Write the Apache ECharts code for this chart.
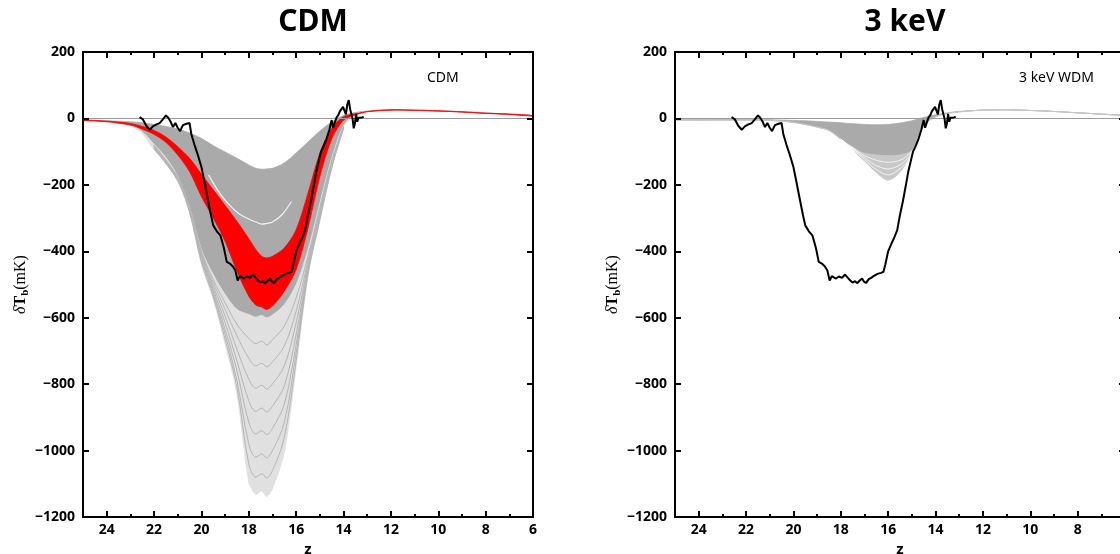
<!DOCTYPE html>
<html><head><meta charset="utf-8">
<script src="https://cdn.jsdelivr.net/npm/echarts@6/dist/echarts.min.js"></script>
<style>html,body{margin:0;padding:0;background:#fff}#c{width:1120px;height:554px}</style>
</head><body><div id="c"></div>
<script>
// ---- shared redshift grid for the envelope curves ----
const zGrid = [25, 24, 23, 22.5, 22, 21.5, 21, 20.5, 20, 19.5, 19, 18.5, 18, 17.7, 17.45, 17.25, 17, 16.5, 16, 15.5, 15, 14.5, 14, 13.5, 13, 12, 11, 10, 9, 8, 7, 6];

// CDM panel: gray family envelopes (mK)
const cdmShallow     = [-5, -7, -10, -13, -18, -24, -32, -44, -60, -82, -101, -120, -140, -150, -153, -152, -150, -134, -104, -71, -38, -11, 9, 18, 22, 26, 25, 23, 20, 17, 13, 9];
const cdmDenseBottom = [-5, -8, -18, -40, -78, -118, -175, -268, -395, -470, -530, -575, -590, -598, -593, -600, -592, -560, -500, -395, -255, -120, -22, 13, 21, 26, 25, 23, 20, 16, 13, 8];
const cdmDeepest     = [-5, -9, -22, -45, -95, -132, -190, -285, -440, -545, -680, -830, -1095, -1132, -1122, -1138, -1115, -1005, -750, -475, -310, -150, -25, 12, 22, 27, 26, 24, 21, 17, 13, 9];
// CDM panel: red (selected) band
const cdmRedTop      = [-5, -8, -15, -24, -36, -56, -85, -120, -168, -215, -262, -310, -362, -395, -415, -420, -415, -390, -335, -225, -105, -30, 5, 14, 21, 26, 25, 23, 20, 16, 13, 9];
const cdmRedBottom   = [-6, -10, -20, -32, -48, -72, -110, -160, -235, -300, -370, -460, -535, -562, -568, -575, -565, -520, -455, -330, -175, -62, -5, 10, 20, 25, 24, 22, 19, 15, 12, 7];

// CDM panel: individual deep curves (sparse lower part)
const zDeep = [22, 21, 20.5, 20, 19.5, 19, 18.5, 18, 17.7, 17.45, 17.25, 17, 16.5, 16, 15.5, 15, 14.5, 14];
const cdmDeep1 = [-80, -177, -270, -400, -485, -555, -620, -662, -678, -670, -682, -666, -625, -540, -415, -268, -128, -24];
const cdmDeep2 = [-82, -179, -272, -405, -495, -575, -655, -722, -745, -737, -748, -733, -685, -580, -428, -277, -133, -25];
const cdmDeep3 = [-84, -181, -274, -410, -505, -595, -695, -785, -812, -803, -815, -799, -745, -615, -440, -284, -138, -26];
const cdmDeep4 = [-86, -183, -276, -415, -515, -615, -730, -850, -882, -872, -884, -866, -805, -650, -450, -290, -142, -27];
const cdmDeep5 = [-88, -185, -278, -420, -522, -635, -760, -915, -950, -940, -952, -933, -860, -680, -457, -296, -145, -28];
const cdmDeep6 = [-90, -186, -280, -427, -530, -650, -790, -980, -1020, -1010, -1022, -1000, -915, -705, -463, -301, -147, -29];
const cdmDeep7 = [-92, -188, -282, -433, -538, -665, -810, -1040, -1080, -1070, -1082, -1060, -960, -728, -469, -305, -149, -30];
// a visible gap inside the dense CDM family
const gapZ = [19.7, 19.2, 18.8, 18.4, 18.0, 17.7, 17.45, 17.25, 17.0, 16.6, 16.2];
const gapV = [-170, -228, -262, -288, -303, -312, -318, -316, -312, -290, -250];

// 3 keV WDM panel envelopes
const wdmShallow     = [-4, -4, -3, -3, -3, -3, -4, -5, -6, -7, -9, -11, -13, -15, -16, -17, -18, -19, -18, -14, -7, 3, 11, 17, 21, 25, 26, 24, 21, 17, 13, 9];
const wdmDenseBottom = [-5, -5, -5, -5, -5, -5, -6, -8, -12, -18, -26, -36, -62, -78, -88, -97, -105, -110, -112, -110, -96, -22, 5, 15, 20, 25, 26, 24, 21, 17, 13, 9];
const wdmDeepest     = [-5, -5, -5, -5, -5, -5, -6, -8, -12, -18, -26, -36, -62, -80, -94, -113, -128, -163, -186, -162, -105, -21, 5, 15, 20, 25, 26, 24, 21, 17, 13, 9];
const zWdmDeep = [18, 17.7, 17.45, 17.25, 17, 16.5, 16, 15.5, 15.2, 15];
const wdmDeep1 = [-62, -79, -90, -101, -112, -126, -132, -126, -112, -98];
const wdmDeep2 = [-62, -79, -91, -105, -118, -142, -152, -140, -122, -100];
const wdmDeep3 = [-62, -80, -93, -109, -124, -154, -170, -152, -130, -102];

// measured absorption profile (black)
const edgesZ = [22.61, 22.47, 22.33, 22.18, 22.05, 21.9, 21.76, 21.62, 21.5, 21.4, 21.3, 21.2, 21.1, 21.0, 20.9, 20.78, 20.63, 20.5, 20.43, 20.3, 20.15, 20.0, 19.86, 19.72, 19.6, 19.5, 19.35, 19.2, 19.05, 18.93, 18.8, 18.68, 18.57, 18.47, 18.38, 18.3, 18.2, 18.08, 17.95, 17.82, 17.7, 17.6, 17.5, 17.4, 17.3, 17.2, 17.1, 17.02, 16.93, 16.82, 16.72, 16.6, 16.45, 16.3, 16.2, 16.12, 16.0, 15.88, 15.75, 15.62, 15.5, 15.38, 15.25, 15.15, 15.05, 14.95, 14.85, 14.72, 14.6, 14.5, 14.44, 14.38, 14.3, 14.22, 14.15, 14.08, 14.02, 13.96, 13.9, 13.84, 13.78, 13.72, 13.67, 13.62, 13.57, 13.52, 13.47, 13.42, 13.37, 13.3, 13.22, 13.15];
const edgesT = [4, -3, -22, -34, -24, -18, -14, -2, 9, 2, -10, -26, -14, -28, -38, -20, -16, -14, -46, -78, -110, -146, -196, -247, -290, -322, -340, -352, -390, -432, -437, -445, -457, -488, -475, -472, -482, -476, -480, -470, -480, -488, -494, -490, -496, -488, -482, -492, -495, -484, -480, -474, -468, -465, -462, -440, -400, -380, -360, -337, -290, -250, -200, -160, -130, -100, -85, -62, -35, -5, -28, -15, 2, 10, 22, 18, 35, 40, 12, 42, 55, 28, 22, 0, -30, -15, 14, -10, 2, -2, 3, 5];

// axis ticks / labels
const xMajor = [6, 8, 10, 12, 14, 16, 18, 20, 22, 24];
const xMinor = [7, 9, 11, 13, 15, 17, 19, 21, 23];
const panelTitles = ['CDM', '3 keV'];
const panelTags = ['CDM', '3 keV WDM'];

// ---------------------------------------------------------------
const GRAY = '#aaaaaa', LIGHT = '#e0e0e0', LINEG = '#b5b5b5';
const gridLeft = [83, 675];
const FONT = '"Noto Sans", "Open Sans", sans-serif';

function pairs(zs, vs) { return zs.map((z, i) => [z, vs[i]]); }

function band(gi, zs, top, bottom, color) {
  return {
    type: 'custom', xAxisIndex: gi * 4, yAxisIndex: gi * 2, silent: true, z: 2,
    data: [[zs[0], top[0]]],
    renderItem: function (params, api) {
      const pts = [];
      for (let i = 0; i < zs.length; i++) pts.push(api.coord([zs[i], top[i]]));
      for (let i = zs.length - 1; i >= 0; i--) pts.push(api.coord([zs[i], bottom[i]]));
      return { type: 'polygon', shape: { points: pts, smooth: 0.3 }, style: { fill: color, stroke: color, lineWidth: 0.8 } };
    }
  };
}
function line(gi, zs, vs, color, width, smooth, zz) {
  return {
    type: 'line', xAxisIndex: gi * 4, yAxisIndex: gi * 2, data: pairs(zs, vs),
    smooth: smooth, showSymbol: false, symbol: 'none', silent: true, z: zz || 2,
    lineStyle: { color: color, width: width }
  };
}
function zeroLine(gi) {
  return {
    type: 'line', xAxisIndex: gi * 4, yAxisIndex: gi * 2, data: [], silent: true,
    markLine: { silent: true, symbol: ['none', 'none'], label: { show: false }, animation: false,
      lineStyle: { color: '#9a9a9a', width: 1, type: 'solid' }, data: [{ yAxis: 0 }] }
  };
}

const grids = gridLeft.map(l => ({ left: l, top: 52, width: 450, height: 465, containLabel: false, outerBoundsMode: 'none' }));

const xAxes = [], yAxes = [];
gridLeft.forEach((l, gi) => {
  const base = {
    type: 'value', gridIndex: gi, min: 6, max: 25, inverse: true, z: 20,
    splitLine: { show: false }
  };
  xAxes.push(Object.assign({}, base, {
    position: 'bottom',
    axisLine: { show: true, onZero: false, lineStyle: { color: '#000', width: 2 } },
    axisTick: { show: true, inside: true, length: 6, customValues: xMajor, lineStyle: { color: '#000', width: 2 } },
    axisLabel: { show: true, customValues: xMajor, margin: 6, color: '#000', fontSize: 14, fontWeight: 'bold', fontFamily: FONT },
    name: 'z', nameLocation: 'middle', nameGap: 24,
    nameTextStyle: { color: '#000', fontSize: 15, fontWeight: 'bold', fontFamily: FONT }
  }));
  xAxes.push(Object.assign({}, base, {
    position: 'bottom',
    axisLine: { show: false, onZero: false },
    axisTick: { show: true, inside: true, length: 3, customValues: xMinor, lineStyle: { color: '#000', width: 2 } },
    axisLabel: { show: false, customValues: xMinor }
  }));
  xAxes.push(Object.assign({}, base, {
    position: 'top',
    axisLine: { show: true, onZero: false, lineStyle: { color: '#000', width: 2 } },
    axisTick: { show: true, inside: true, length: 6, customValues: xMajor, lineStyle: { color: '#000', width: 2 } },
    axisLabel: { show: false, customValues: xMajor }
  }));
  xAxes.push(Object.assign({}, base, {
    position: 'top',
    axisLine: { show: false, onZero: false },
    axisTick: { show: true, inside: true, length: 3, customValues: xMinor, lineStyle: { color: '#000', width: 2 } },
    axisLabel: { show: false, customValues: xMinor }
  }));
  const ybase = { type: 'value', gridIndex: gi, min: -1200, max: 200, interval: 200, z: 20, splitLine: { show: false } };
  yAxes.push(Object.assign({}, ybase, {
    position: 'left',
    axisLine: { show: true, onZero: false, lineStyle: { color: '#000', width: 2 } },
    axisTick: { show: true, inside: true, length: 6, lineStyle: { color: '#000', width: 2 } },
    axisLabel: { show: true, margin: 8, color: '#000', fontSize: 14, fontWeight: 'bold', fontFamily: FONT,
      formatter: v => (v < 0 ? '\u2212' + Math.abs(v) : String(v)) },
    name: '{d|δ}{t|T}{s|b}{p|(mK)}', nameLocation: 'middle', nameGap: 52, nameRotate: 90,
    nameTextStyle: {
      color: '#000',
      rich: {
        d: { fontFamily: 'Liberation Serif', fontStyle: 'italic', fontSize: 16, lineHeight: 20, color: '#000' },
        t: { fontFamily: 'Liberation Serif', fontWeight: 'bold', fontSize: 16, lineHeight: 20, color: '#000' },
        s: { fontFamily: 'Liberation Serif', fontWeight: 'bold', fontSize: 11, lineHeight: 12, verticalAlign: 'bottom', color: '#000' },
        p: { fontFamily: 'Liberation Serif', fontSize: 16, lineHeight: 20, color: '#000' }
      }
    }
  }));
  yAxes.push(Object.assign({}, ybase, {
    position: 'right',
    axisLine: { show: true, onZero: false, lineStyle: { color: '#000', width: 2 } },
    axisTick: { show: true, inside: true, length: 6, lineStyle: { color: '#000', width: 2 } },
    axisLabel: { show: false }
  }));
});

const series = [
  // ----- CDM -----
  band(0, zGrid, cdmShallow, cdmDenseBottom, GRAY),
  band(0, zGrid, cdmDenseBottom, cdmDeepest, LIGHT),
  line(0, zDeep, cdmDeep1, LINEG, 1, 0.35),
  line(0, zDeep, cdmDeep2, LINEG, 1, 0.35),
  line(0, zDeep, cdmDeep3, LINEG, 1, 0.35),
  line(0, zDeep, cdmDeep4, LINEG, 1, 0.35),
  line(0, zDeep, cdmDeep5, LINEG, 1, 0.35),
  line(0, zDeep, cdmDeep6, LINEG, 1, 0.35),
  line(0, zDeep, cdmDeep7, LINEG, 1, 0.35),
  line(0, gapZ, gapV, 'rgba(255,255,255,0.85)', 1.2, 0.35),
  band(0, zGrid, cdmRedTop, cdmRedBottom, '#ff0000'),
  zeroLine(0),
  line(0, edgesZ, edgesT, '#000', 2, false, 10),
  // ----- 3 keV -----
  band(1, zGrid, wdmShallow, wdmDenseBottom, GRAY),
  band(1, zGrid, wdmDenseBottom, wdmDeepest, '#c8c8c8'),
  line(1, zWdmDeep, wdmDeep1, 'rgba(255,255,255,0.75)', 1, 0.35),
  line(1, zWdmDeep, wdmDeep2, 'rgba(255,255,255,0.75)', 1, 0.35),
  line(1, zWdmDeep, wdmDeep3, 'rgba(255,255,255,0.75)', 1, 0.35),
  zeroLine(1),
  line(1, edgesZ, edgesT, '#000', 2, false, 10)
];

const titles = panelTitles.map((t, i) => ({
  text: t, left: gridLeft[i] + 225, top: 2, textAlign: 'center',
  textStyle: { fontSize: 30, fontWeight: 'bold', color: '#000', fontFamily: FONT }
}));

const graphics = panelTags.map((t, i) => ({
  type: 'text', left: gridLeft[i] + 344, top: 71, silent: true,
  style: { text: t, fill: '#000', font: '14px ' + FONT }
}));

const chart = echarts.init(document.getElementById('c'), null, { renderer: 'canvas', width: 1120, height: 554 });
chart.setOption({
  backgroundColor: '#fff',
  animation: false,
  title: titles,
  grid: grids,
  xAxis: xAxes,
  yAxis: yAxes,
  graphic: graphics,
  series: series
});
</script>
</body></html>
